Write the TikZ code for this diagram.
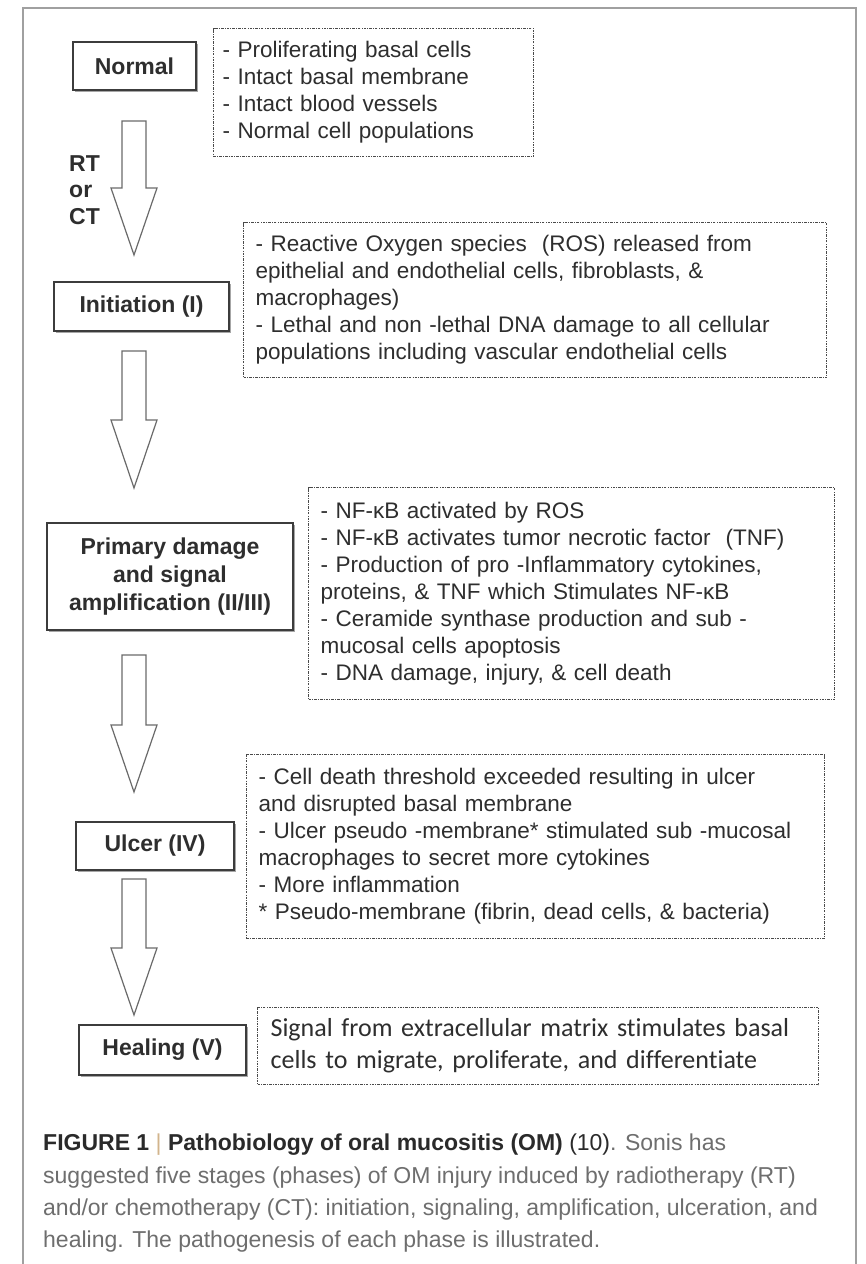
\documentclass[tikz,border=0pt]{standalone}
\usepackage{fontspec}
\setmainfont{Liberation Sans}
\newfontfamily\calib[Ligatures=NoCommon]{Carlito}
\usetikzlibrary{calc,shadows}
\definecolor{txt}{HTML}{2E2E2E}
\definecolor{edge}{HTML}{3C3C3C}
\definecolor{dashc}{HTML}{4A4A4A}
\definecolor{arrowc}{HTML}{6A6A6A}
\definecolor{framec}{HTML}{A0A0A0}
\definecolor{capgray}{HTML}{6E6E6E}
\definecolor{capdark}{HTML}{2A2A2A}
\definecolor{pipec}{HTML}{D2B48C}
\begin{document}
\begin{tikzpicture}[x=1pt,y=-1pt,
  stagebox/.style={draw=edge, line width=1.6pt, fill=white, text=txt,
    font=\bfseries\fontsize{23}{28}\selectfont, align=center, inner sep=0pt,
    drop shadow={shadow xshift=1.5pt, shadow yshift=-1.5pt, opacity=0.35, fill=black}},
  notebox/.style={draw=dashc, line width=1.2pt,
    dash pattern=on 2.5pt off 1.2pt on 0.8pt off 1.2pt,
    anchor=north west, align=left, inner ysep=0pt, text=txt,
    font=\fontsize{22.5}{27}\selectfont},
  blockarrow/.style={draw=arrowc, line width=1.2pt, fill=white, line join=miter},
  capline/.style={anchor=base west, inner sep=0pt, text=capgray,
    font=\fontsize{23}{32}\selectfont}
]
\useasboundingbox (0,0) rectangle (866,1264);
\fill[white] (0,0) rectangle (866,1264);
% outer frame
\draw[framec, line width=2pt] (23,1264) -- (23,8) -- (856,8) -- (856,1264);

% stage boxes
\node[stagebox, minimum width=123pt, minimum height=48pt] (normal) at (134.5,66) {Normal};
\node[stagebox, minimum width=175pt, minimum height=49pt] (init) at (141.5,306.5) {Initiation (I)};
\node[stagebox, minimum width=246pt, minimum height=107pt] (prim) at (170,576.5) {Primary damage\\and signal\\amplification (II/III)};
\node[stagebox, minimum width=158pt, minimum height=48pt] (ulcer) at (155,846) {Ulcer (IV)};
\node[stagebox, minimum width=167pt, minimum height=50pt] (heal) at (162.5,1050) {Healing (V)};

% note boxes
\node[notebox, inner xsep=9pt, text width=302pt, minimum height=128pt] (nnormal) at (213,28)
  {- Proliferating basal cells\\- Intact basal membrane\\- Intact blood vessels\\- Normal cell populations};
\node[notebox, inner xsep=12pt, text width=559pt, minimum height=155pt] (ninit) at (243,222)
  {- Reactive Oxygen species\ \ (ROS) released from\\epithelial and endothelial cells, fibroblasts, \&\\macrophages)\\- Lethal and non -lethal DNA damage to all cellular\\populations including vascular endothelial cells};
\node[notebox, inner xsep=12pt, text width=502pt, minimum height=212pt] (nprim) at (308,487)
  {- NF-κB activated by ROS\\- NF-κB activates tumor necrotic factor\ \ (TNF)\\- Production of pro -Inflammatory cytokines,\\proteins, \& TNF which Stimulates NF-κB\\- Ceramide synthase production and sub -\\mucosal cells apoptosis\\- DNA damage, injury, \& cell death};
\node[notebox, inner xsep=12pt, text width=554pt, minimum height=184pt] (nulcer) at (246,754)
  {- Cell death threshold exceeded resulting in ulcer\\and disrupted basal membrane\\- Ulcer pseudo -membrane* stimulated sub -mucosal\\macrophages to secret more cytokines\\- More inflammation\\{}* Pseudo-membrane (fibrin, dead cells, \& bacteria)};
\node[notebox, inner xsep=13pt, text width=535pt, minimum height=77pt, font=\calib\fontsize{26}{32}\selectfont] (nheal) at (257,1007)
  {Signal from extracellular matrix stimulates basal\\cells to migrate, proliferate, and differentiate};

% RT or CT label
\node[anchor=west, align=left, inner sep=0pt, text=txt, font=\bfseries\fontsize{23}{26.5}\selectfont] (rtct) at (69,190) {RT\\or\\CT};

% block arrows
\foreach \n/\t/\h/\b in {1/121/188/255, 2/351/420/488, 3/655/725/792, 4/879/948/1015}{
  \coordinate (a\n top) at (134,\t);
  \coordinate (a\n neck) at (134,\h);
  \coordinate (a\n tip) at (134,\b);
  \draw[blockarrow] ($(a\n top)+(-12,0)$) -- ($(a\n top)+(12,0)$) -- ($(a\n neck)+(12,0)$)
    -- ($(a\n neck)+(23,0)$) -- (a\n tip) -- ($(a\n neck)+(-23,0)$) -- ($(a\n neck)+(-12,0)$) -- cycle;
}

% caption
\node[capline] (cap1) at (43,1150) {{\color{capdark}\bfseries FIGURE 1} {\color{pipec}|} {\color{capdark}\bfseries Pathobiology of oral mucositis (OM)} {\color{capdark}(10)}. Sonis has};
\node[capline] (cap2) at (43,1183) {suggested five stages (phases) of OM injury induced by radiotherapy (RT)};
\node[capline] (cap3) at (43,1215) {and/or chemotherapy (CT): initiation, signaling, amplification, ulceration, and};
\node[capline] (cap4) at (43,1247) {healing. The pathogenesis of each phase is illustrated.};
\end{tikzpicture}
\end{document}
